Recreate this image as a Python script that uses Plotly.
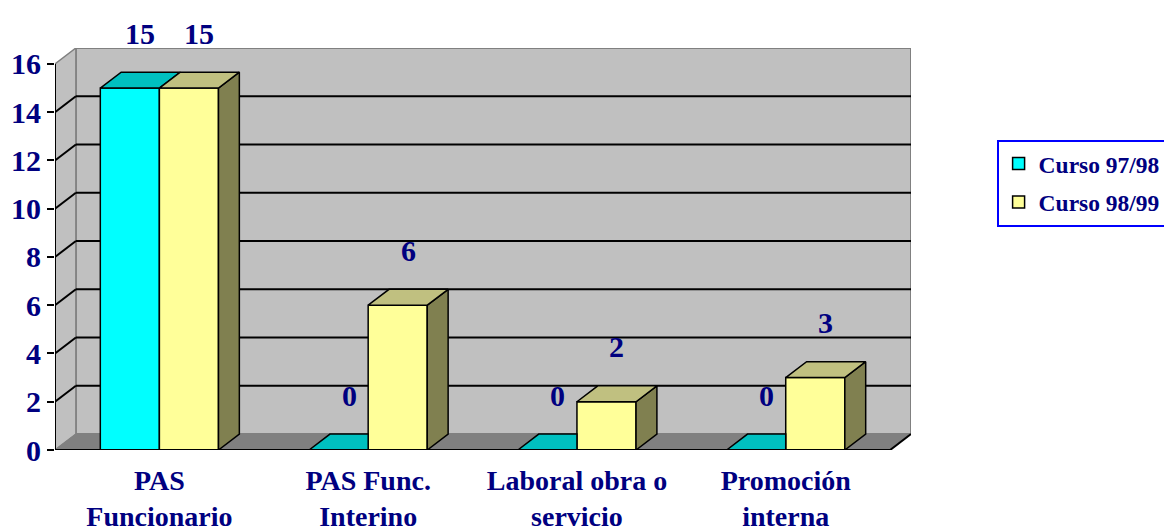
import plotly.graph_objects as go

# ---- data ----
categories = ["PAS<br>Funcionario", "PAS Func.<br>Interino", "Laboral obra o<br>servicio", "Promoción<br>interna"]
series_names = ["Curso 97/98", "Curso 98/99"]
curso_9798 = [15, 0, 0, 0]
curso_9899 = [15, 6, 2, 3]
y_ticks = [0, 2, 4, 6, 8, 10, 12, 14, 16]

# ---- style / geometry ----
NAVY = "#000080"
FONT = "Liberation Serif"
DX, DY = 0.10, 0.66          # 3D depth offset in axis units
BW = 0.283                    # bar width in category units
YMAX = 16
n = len(categories)
centers = [i + 0.5 for i in range(n)]

front_cols = ["#00FFFF", "#FFFF99"]
top_cols = ["#00C0C0", "#C0C080"]
side_col = "#808050"

fig = go.Figure()

# front faces (bars)
for s, (name, vals) in enumerate(zip(series_names, [curso_9798, curso_9899])):
    fig.add_trace(go.Bar(
        x=centers, y=vals, name=name, width=BW, offset=(-BW if s == 0 else 0),
        legendgroup=name,
        marker=dict(color=front_cols[s], line=dict(color="black", width=1.5)),
        hoverinfo="skip",
    ))

# top and side faces
def poly_trace(xs, ys, color):
    return go.Scatter(x=xs, y=ys, mode="lines", fill="toself", fillcolor=color,
                      line=dict(color="black", width=1.5), showlegend=False,
                      hoverinfo="skip")

cy_tx, cy_ty, ye_tx, ye_ty, ye_sx, ye_sy = [], [], [], [], [], []
for c, vc, vy in zip(centers, curso_9798, curso_9899):
    # cyan bar top
    xl, xr = c - BW, c
    if vc >= vy:
        px = [xl, xr, xr + DX, xl + DX, xl]
        py = [vc, vc, vc + DY, vc + DY, vc]
    else:
        px = [xl, xr, xr, xl + DX, xl]
        py = [vc, vc, vc + DY, vc + DY, vc]
    cy_tx += px + [None]
    cy_ty += py + [None]
    # yellow bar top and side
    xl, xr = c, c + BW
    ye_tx += [xl, xr, xr + DX, xl + DX, xl, None]
    ye_ty += [vy, vy, vy + DY, vy + DY, vy, None]
    ye_sx += [xr, xr + DX, xr + DX, xr, xr, None]
    ye_sy += [0, DY, vy + DY, vy, 0, None]

fig.add_trace(poly_trace(ye_sx, ye_sy, side_col))
fig.add_trace(poly_trace(cy_tx, cy_ty, top_cols[0]))
fig.add_trace(poly_trace(ye_tx, ye_ty, top_cols[1]))

# ---- walls, floor, gridlines ----
shapes = []
GRAY = "#808080"
WALL = "#C0C0C0"
shapes.append(dict(type="rect", xref="x", yref="y", x0=DX, x1=n + DX, y0=DY, y1=YMAX + DY,
                   fillcolor=WALL, line=dict(color=GRAY, width=2), layer="below"))
shapes.append(dict(type="path", xref="x", yref="y",
                   path=f"M0,0 L{DX},{DY} L{DX},{YMAX + DY} L0,{YMAX} Z",
                   fillcolor=WALL, line=dict(color=GRAY, width=1.5), layer="below"))
shapes.append(dict(type="path", xref="x", yref="y",
                   path=f"M0,0 L{n},0 L{n + DX},{DY} L{DX},{DY} Z",
                   fillcolor=GRAY, line=dict(color=GRAY, width=1), layer="below"))
for t in y_ticks[1:-1]:
    shapes.append(dict(type="line", xref="x", yref="y", x0=DX, x1=n + DX, y0=t + DY, y1=t + DY,
                       line=dict(color="black", width=2), layer="below"))
    shapes.append(dict(type="line", xref="x", yref="y", x0=0, x1=DX, y0=t, y1=t + DY,
                       line=dict(color="black", width=2), layer="below"))
# floor right edge
shapes.append(dict(type="line", xref="x", yref="y", x0=n, x1=n + DX, y0=0, y1=DY,
                   line=dict(color="black", width=2), layer="below"))
# axis lines
shapes.append(dict(type="line", xref="x", yref="y", x0=0, x1=n, y0=0, y1=0,
                   line=dict(color="black", width=2)))
shapes.append(dict(type="line", xref="x", yref="y", x0=0, x1=0, y0=0, y1=YMAX,
                   line=dict(color="black", width=2)))
# category boundary ticks
for k in range(n + 1):
    shapes.append(dict(type="line", xref="x", yref="y", ysizemode="pixel", yanchor=0,
                       x0=k, x1=k, y0=0, y1=-7, line=dict(color="black", width=2)))

# ---- data labels ----
annotations = []
for c, vc, vy in zip(centers, curso_9798, curso_9899):
    for xc, v in ((c - BW / 2 + DX / 2, vc), (c + BW / 2 + DX / 2, vy)):
        annotations.append(dict(x=xc, y=v + DY, xref="x", yref="y", text=str(v),
                                showarrow=False, yanchor="middle", yshift=39,
                                font=dict(family=FONT, size=30, color=NAVY, weight="bold")))

# page body has an 8px margin, so the figure is sized to end at the window edge
fig.update_layout(
    width=1164, height=524,
    margin=dict(l=47, r=261, t=40, b=82, autoexpand=False),
    paper_bgcolor="white", plot_bgcolor="white",
    barmode="overlay",
    shapes=shapes, annotations=annotations,
    xaxis=dict(range=[0, n + DX], tickvals=centers, ticktext=categories, ticks="",
               showgrid=False, zeroline=False, showline=False, automargin=False,
               ticklabelstandoff=11,
               tickfont=dict(family=FONT, size=28, color=NAVY, weight="bold")),
    yaxis=dict(range=[0, YMAX + DY], tickvals=y_ticks, ticks="outside", ticklen=7,
               tickwidth=2, tickcolor="black", showgrid=False, zeroline=False,
               showline=False, automargin=False,
               tickfont=dict(family=FONT, size=30, color=NAVY, weight="bold")),
    legend=dict(x=1.1, y=0.772, xanchor="left", yanchor="top", xref="paper", yref="paper",
                bgcolor="white", bordercolor="#0000FF", borderwidth=2,
                traceorder="grouped", tracegroupgap=5,
                font=dict(family=FONT, size=23.5, color=NAVY, weight="bold")),
    showlegend=True,
)

fig.write_html("out.html")
